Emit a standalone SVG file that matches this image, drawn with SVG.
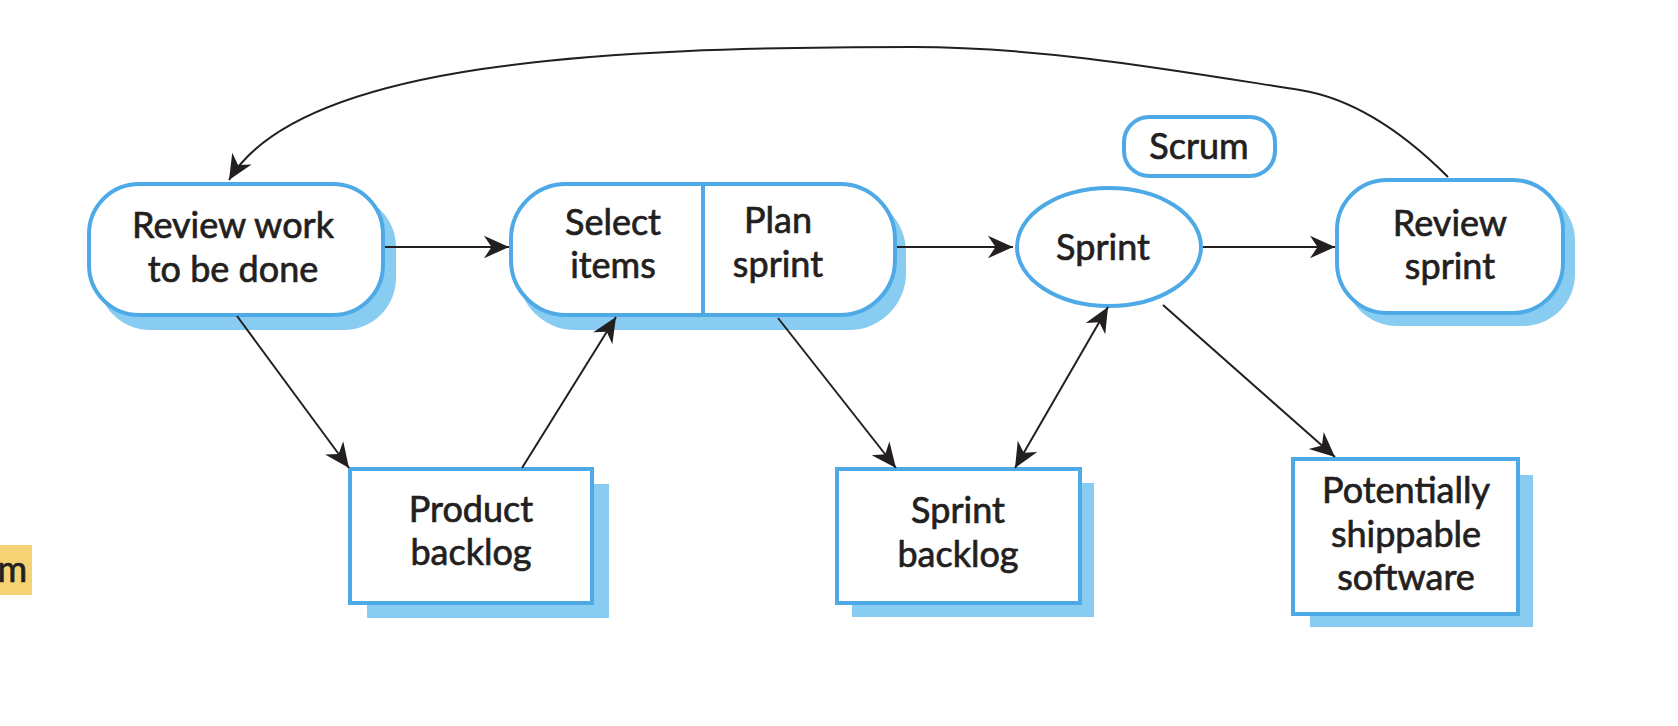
<svg xmlns="http://www.w3.org/2000/svg" width="1678" height="726" viewBox="0 0 1678 726">
<defs>
<style>
.box{fill:#ffffff;stroke:#4eaae6;stroke-width:4}
.sh{fill:#88ccf1;stroke:none}
.lbl{font-family:Lato,"Open Sans","Liberation Sans",sans-serif;font-size:36px;fill:#231f20;stroke:#231f20;stroke-width:0.7;text-anchor:middle}
.ln{fill:none;stroke:#231f20;stroke-width:2}
</style>
<marker id="ah" markerUnits="userSpaceOnUse" markerWidth="30" markerHeight="30" viewBox="-22 -12 24 24" refX="0" refY="0" orient="auto-start-reverse">
<path d="M0,0 L-20,-9 L-14,0 L-20,9 Z" fill="#231f20"/>
</marker>
</defs>
<rect width="1678" height="726" fill="#ffffff"/>
<g id="tag">
<rect x="0" y="545" width="32" height="50" fill="#f5d273"/>
<text class="lbl" x="27" y="582" style="text-anchor:end">m</text>
</g>
<g id="review-work">
<rect class="sh" x="98" y="195" width="298" height="135" rx="52"/>
<rect class="box" x="89" y="184" width="294" height="131" rx="50"/>
<text class="lbl" x="233" y="238">Review work</text>
<text class="lbl" x="233" y="282">to be done</text>
</g>
<g id="select-plan">
<rect class="sh" x="518" y="195" width="388" height="135" rx="57"/>
<rect class="box" x="511" y="184" width="384" height="131" rx="55"/>
<line x1="703" y1="184" x2="703" y2="315" stroke="#4eaae6" stroke-width="4"/>
<text class="lbl" x="613" y="235">Select</text>
<text class="lbl" x="613" y="278">items</text>
<text class="lbl" x="778" y="233">Plan</text>
<text class="lbl" x="778" y="277">sprint</text>
</g>
<g id="scrum">
<rect class="box" x="1124" y="117" width="151" height="59" rx="25"/>
<text class="lbl" x="1199" y="159">Scrum</text>
</g>
<g id="sprint">
<ellipse class="box" cx="1109" cy="247" rx="92" ry="59"/>
<text class="lbl" x="1103" y="260">Sprint</text>
</g>
<g id="review-sprint">
<rect class="sh" x="1345" y="189" width="230" height="137" rx="52"/>
<rect class="box" x="1337" y="180" width="226" height="133" rx="50"/>
<text class="lbl" x="1450" y="236">Review</text>
<text class="lbl" x="1450" y="279">sprint</text>
</g>
<g id="product-backlog">
<rect class="sh" x="367" y="484" width="242" height="134"/>
<rect class="box" x="350" y="469" width="242" height="134"/>
<text class="lbl" x="471" y="522">Product</text>
<text class="lbl" x="471" y="565">backlog</text>
</g>
<g id="sprint-backlog">
<rect class="sh" x="852" y="483" width="242" height="134"/>
<rect class="box" x="837" y="469" width="243" height="134"/>
<text class="lbl" x="958" y="523">Sprint</text>
<text class="lbl" x="958" y="567">backlog</text>
</g>
<g id="shippable">
<rect class="sh" x="1310" y="475" width="223" height="152"/>
<rect class="box" x="1293" y="459" width="225" height="155"/>
<text class="lbl" x="1406" y="503">Potentially</text>
<text class="lbl" x="1406" y="547">shippable</text>
<text class="lbl" x="1406" y="590">software</text>
</g>
<g id="connectors">
<line class="ln" x1="385" y1="247" x2="509" y2="247" marker-end="url(#ah)"/>
<line class="ln" x1="897" y1="247" x2="1013" y2="247" marker-end="url(#ah)"/>
<line class="ln" x1="1203" y1="247" x2="1335" y2="247" marker-end="url(#ah)"/>
<line class="ln" x1="237" y1="316" x2="349" y2="468" marker-end="url(#ah)"/>
<line class="ln" x1="522" y1="468" x2="616" y2="317" marker-end="url(#ah)"/>
<line class="ln" x1="778" y1="318" x2="896" y2="468" marker-end="url(#ah)"/>
<line class="ln" x1="1015" y1="468" x2="1108" y2="307" marker-start="url(#ah)" marker-end="url(#ah)"/>
<line class="ln" x1="1163" y1="305" x2="1335" y2="457" marker-end="url(#ah)"/>
<path class="ln" d="M1448,177 C1408,137 1356,99 1300,90 C1172,70 1043,47 913,47 C600,47 300,62 229,180" marker-end="url(#ah)"/>
</g>
</svg>
